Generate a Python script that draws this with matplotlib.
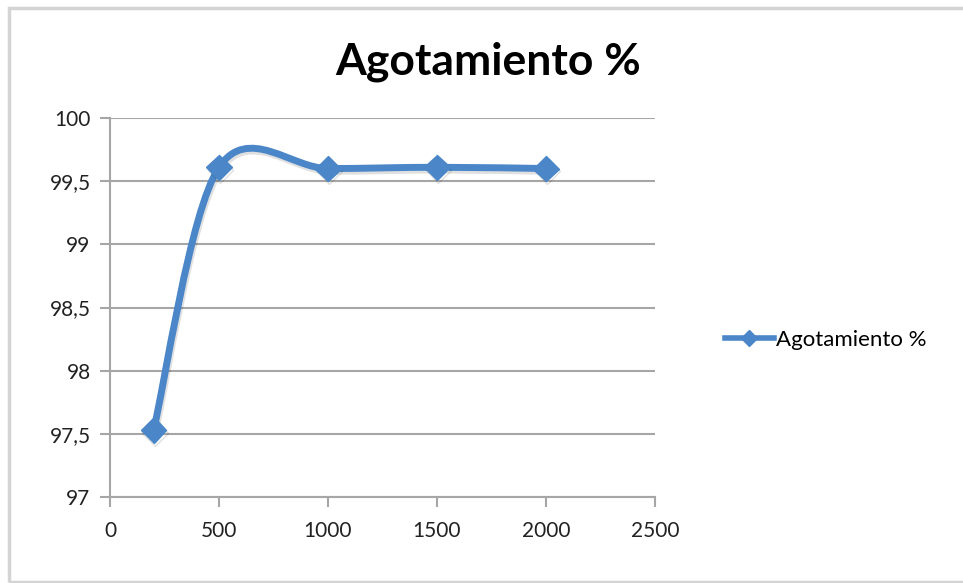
import matplotlib.pyplot as plt
import matplotlib.patheffects as pe
from matplotlib.path import Path
from matplotlib.patches import PathPatch, Rectangle
from matplotlib.lines import Line2D
import numpy as np

# data
x_vals = [200, 500, 1000, 1500, 2000]
y_vals = [97.53, 99.61, 99.60, 99.61, 99.60]
series_name = 'Agotamiento %'
title = 'Agotamiento %'
x_ticks = [0, 500, 1000, 1500, 2000, 2500]
y_ticks = [97, 97.5, 98, 98.5, 99, 99.5, 100]

line_color = '#4a86c8'
grid_color = '#a6a6a6'

plt.rcParams['font.family'] = ['Lato', 'DejaVu Sans']

fig = plt.figure(figsize=(9.63, 5.83), dpi=100)
ax = fig.add_axes([110 / 963, 1 - 497 / 583, 545 / 963, 379 / 583])

# outer chart frame
fig.patches.append(Rectangle((9 / 963, 1 / 583), 1.0, 574 / 583, transform=fig.transFigure,
                             fill=False, edgecolor='#d4d4d4', linewidth=2.5))

# smoothed line (Catmull-Rom style Bezier, like Excel "smoothed line")
pts = np.column_stack([x_vals, y_vals])
verts = [pts[0]]
codes = [Path.MOVETO]
for i in range(len(pts) - 1):
    p_prev = pts[i - 1] if i > 0 else pts[i]
    p_next = pts[i + 2] if i + 2 < len(pts) else pts[i + 1]
    c1 = pts[i] + (pts[i + 1] - p_prev) / 6
    c2 = pts[i + 1] - (p_next - pts[i]) / 6
    verts += [c1, c2, pts[i + 1]]
    codes += [Path.CURVE4] * 3
soft_shadow = [pe.SimpleLineShadow(offset=(1, -2), shadow_color='#000000', alpha=0.12),
               pe.Normal()]
curve = PathPatch(Path(verts, codes), fill=False, edgecolor=line_color, linewidth=5,
                  capstyle='round', joinstyle='round', zorder=3)
curve.set_path_effects(soft_shadow)
ax.add_patch(curve)
mk = ax.plot(x_vals, y_vals, linestyle='none', marker='D', markersize=13,
             color=line_color, markeredgecolor=line_color, zorder=4)[0]
mk.set_path_effects(soft_shadow)

ax.set_xlim(0, 2500)
ax.set_ylim(97, 100)
ax.set_xticks(x_ticks)
ax.set_yticks(y_ticks)
ax.set_yticklabels([f'{v:g}'.replace('.', ',') for v in y_ticks])
ax.tick_params(axis='both', labelsize=15, colors=grid_color, labelcolor='#222222', length=7, width=1.5)
ax.tick_params(axis='x', pad=10)
ax.tick_params(axis='y', pad=7)
ax.yaxis.grid(True, color=grid_color, linewidth=1.5)
ax.set_axisbelow(True)
for side in ['top', 'right']:
    ax.spines[side].set_visible(False)
for side in ['left', 'bottom']:
    ax.spines[side].set_color(grid_color)
    ax.spines[side].set_linewidth(1.5)

fig.text(488 / 963, 1 - 62 / 583, title, ha='center', va='center',
         fontsize=32, fontweight='bold', color='#000000')

handle = Line2D([], [], color=line_color, linewidth=4, marker='D', markersize=8)
fig.legend([handle], [series_name], loc='center left', bbox_to_anchor=(705 / 963, 1 - 340 / 583),
           frameon=False, fontsize=16, handlelength=2.2, handletextpad=0.1)

fig.savefig('out.png', dpi=100)
